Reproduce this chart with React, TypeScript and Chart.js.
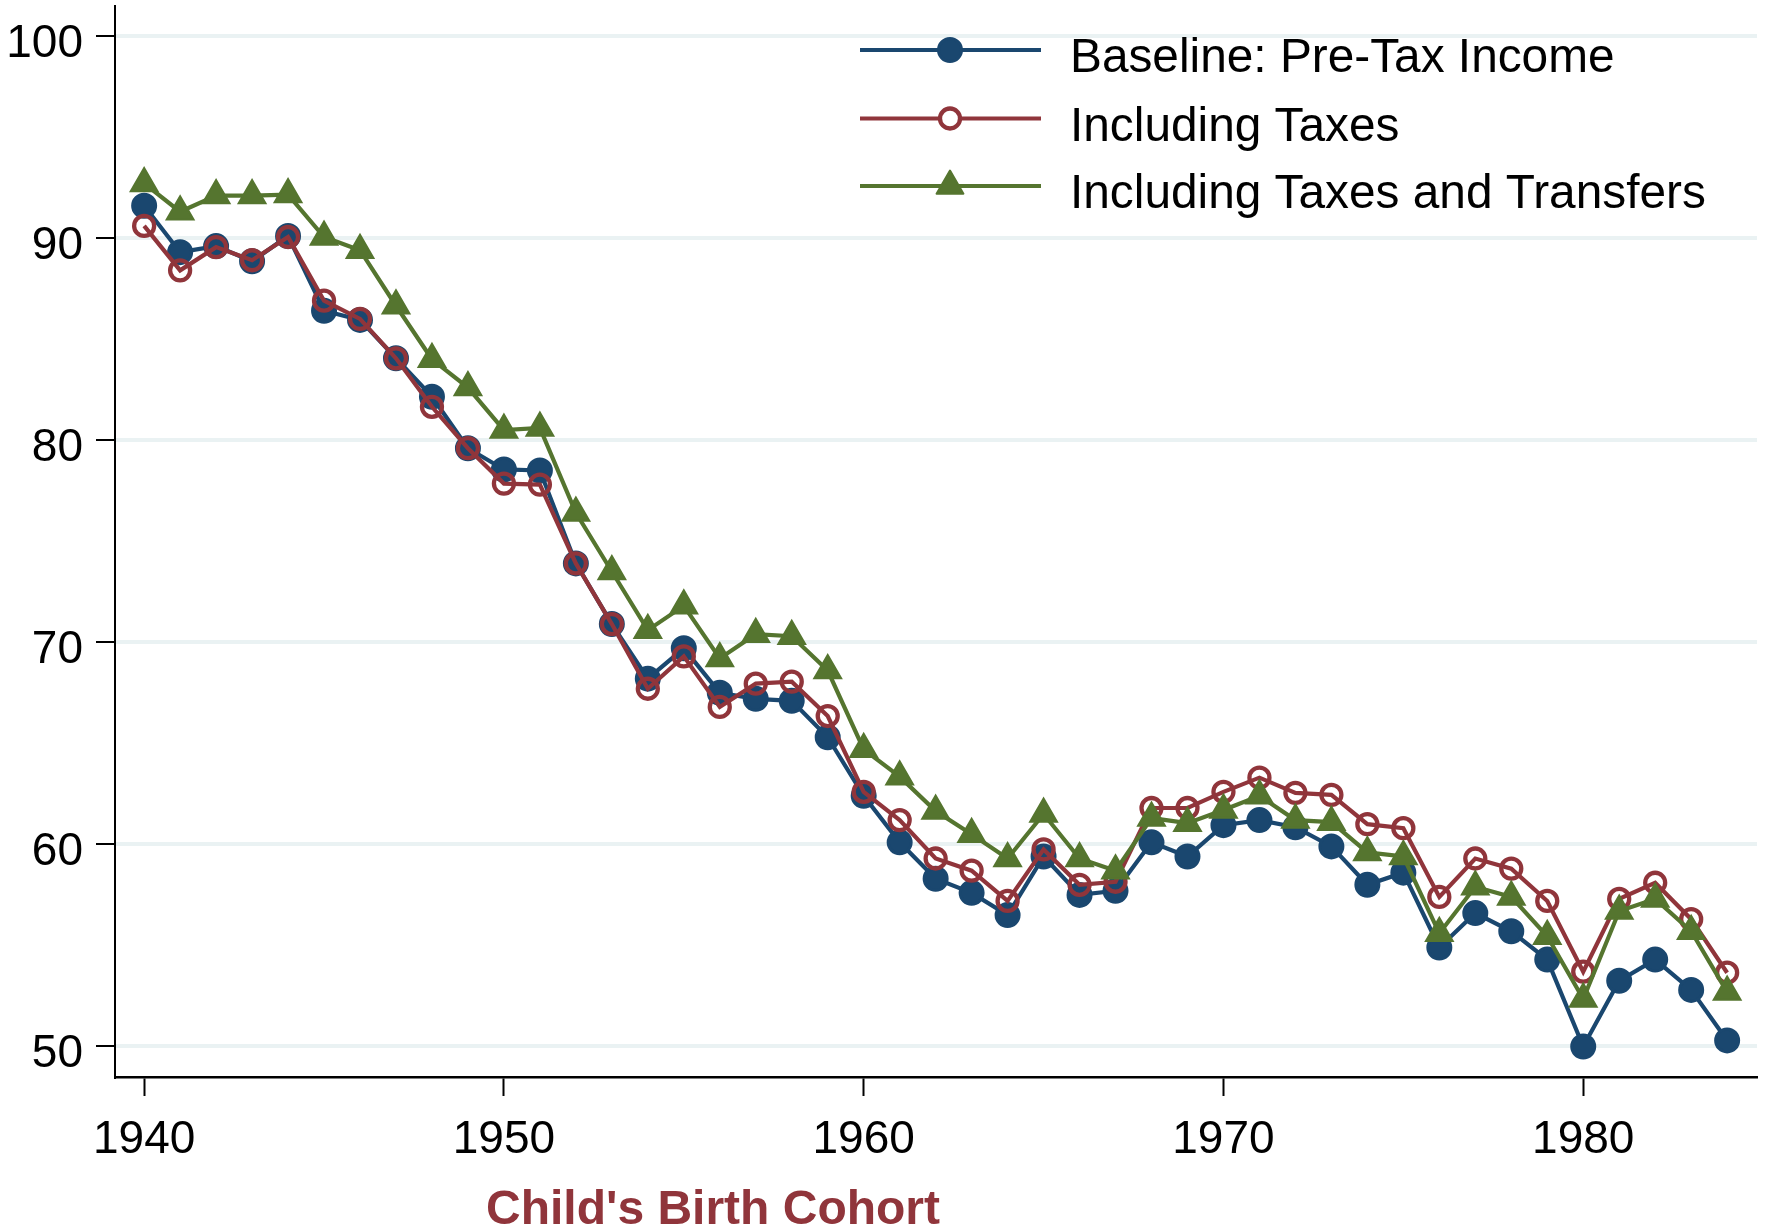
import React, { useEffect, useRef } from "react";
import { Chart, registerables } from "chart.js";

Chart.register(...registerables);

const years = [
  1940, 1941, 1942, 1943, 1944, 1945, 1946, 1947, 1948, 1949,
  1950, 1951, 1952, 1953, 1954, 1955, 1956, 1957, 1958, 1959,
  1960, 1961, 1962, 1963, 1964, 1965, 1966, 1967, 1968, 1969,
  1970, 1971, 1972, 1973, 1974, 1975, 1976, 1977, 1978, 1979,
  1980, 1981, 1982, 1983, 1984,
];

const baseline = [
  91.6, 89.3, 89.6, 88.85, 90.1, 86.4, 85.95, 84.05, 82.15, 79.6,
  78.55, 78.5, 73.9, 70.9, 68.2, 69.7, 67.5, 67.2, 67.1, 65.3,
  62.4, 60.1, 58.3, 57.6, 56.5, 59.4, 57.5, 57.7, 60.1, 59.4,
  60.95, 61.2, 60.85, 59.9, 58.0, 58.6, 54.9, 56.6, 55.7, 54.3,
  50.0, 53.25, 54.3, 52.8, 50.3,
];

const withTaxes = [
  90.6, 88.4, 89.55, 88.9, 90.05, 86.9, 86.0, 84.05, 81.65, 79.6,
  77.85, 77.8, 73.9, 70.9, 67.7, 69.3, 66.8, 67.95, 68.05, 66.35,
  62.6, 61.2, 59.3, 58.7, 57.2, 59.75, 58.0, 58.15, 61.8, 61.8,
  62.6, 63.3, 62.55, 62.45, 61.0, 60.8, 57.4, 59.3, 58.8, 57.2,
  53.7, 57.3, 58.1, 56.3, 53.65,
];

const withTransfers = [
  92.7, 91.3, 92.1, 92.1, 92.15, 90.05, 89.4, 86.65, 84.0, 82.6,
  80.5, 80.6, 76.4, 73.5, 70.6, 71.8, 69.2, 70.4, 70.3, 68.6,
  64.7, 63.35, 61.65, 60.5, 59.3, 61.5, 59.3, 58.7, 61.3, 61.05,
  61.7, 62.4, 61.2, 61.1, 59.6, 59.4, 55.6, 57.9, 57.4, 55.45,
  52.35, 56.7, 57.3, 55.7, 52.7,
];

const seriesLabels = [
  "Baseline: Pre-Tax Income",
  "Including Taxes",
  "Including Taxes and Transfers",
];

const xTicks = [1940, 1950, 1960, 1970, 1980];
const yTicks = [50, 60, 70, 80, 90, 100];
const xTitle = "Child's Birth Cohort";

const NAVY = "#1a476f";
const MAROON = "#90353b";
const GREEN = "#55752f";
const GRID = "#eaf2f3";
const FONT = "'Liberation Sans', Arial, Helvetica, sans-serif";

const W = 1768;
const H = 1232;

const LINE_W = 4.2;

type MarkerKind = "filled" | "hollow" | "triangle";

function drawMarker(ctx: CanvasRenderingContext2D, kind: MarkerKind, color: string, x: number, y: number) {
  ctx.save();
  if (kind === "filled") {
    ctx.beginPath();
    ctx.arc(x, y, 11.5, 0, Math.PI * 2);
    ctx.fillStyle = color;
    ctx.fill();
    ctx.lineWidth = 3;
    ctx.strokeStyle = color;
    ctx.stroke();
  } else if (kind === "hollow") {
    ctx.beginPath();
    ctx.arc(x, y, 10, 0, Math.PI * 2);
    ctx.fillStyle = "#ffffff";
    ctx.fill();
    ctx.lineWidth = 4.3;
    ctx.strokeStyle = color;
    ctx.stroke();
  } else {
    const r = 15.5;
    ctx.beginPath();
    for (let i = 0; i < 3; i++) {
      const a = (i * 2 * Math.PI) / 3;
      const px = x + Math.sin(a) * r;
      const py = y - Math.cos(a) * r;
      if (i === 0) ctx.moveTo(px, py);
      else ctx.lineTo(px, py);
    }
    ctx.closePath();
    ctx.fillStyle = color;
    ctx.fill();
    ctx.lineWidth = 2;
    ctx.lineJoin = "round";
    ctx.strokeStyle = color;
    ctx.stroke();
  }
  ctx.restore();
}

const legendItems: { label: string; color: string; kind: MarkerKind }[] = [
  { label: seriesLabels[0], color: NAVY, kind: "filled" },
  { label: seriesLabels[1], color: MAROON, kind: "hollow" },
  { label: seriesLabels[2], color: GREEN, kind: "triangle" },
];

const overlayPlugin = {
  id: "overlayLegendTitle",
  afterDraw(chart: any) {
    const ctx: CanvasRenderingContext2D = chart.ctx;
    // legend inside the plot area, top right
    const lineX0 = 860;
    const lineX1 = 1041;
    const markX = 950;
    const textX = 1070;
    const rowY = [50, 118.5, 186];
    legendItems.forEach((it, i) => {
      const y = rowY[i];
      ctx.save();
      ctx.strokeStyle = it.color;
      ctx.lineWidth = LINE_W;
      ctx.beginPath();
      ctx.moveTo(lineX0, y);
      ctx.lineTo(lineX1, y);
      ctx.stroke();
      ctx.restore();
      drawMarker(ctx, it.kind, it.color, markX, y);
      ctx.save();
      ctx.fillStyle = "#000000";
      ctx.font = `47.8px ${FONT}`;
      ctx.textAlign = "left";
      ctx.textBaseline = "alphabetic";
      ctx.fillText(it.label, textX, y + 22);
      ctx.restore();
    });
    // x-axis title
    ctx.save();
    ctx.fillStyle = MAROON;
    ctx.font = `bold 48px ${FONT}`;
    ctx.textAlign = "center";
    ctx.textBaseline = "alphabetic";
    ctx.fillText(xTitle, 713, 1224);
    ctx.restore();
  },
};

export default function App() {
  const canvasRef = useRef<HTMLCanvasElement | null>(null);

  useEffect(() => {
    const canvas = canvasRef.current;
    if (!canvas) return;

    const toPoints = (vals: number[]) => years.map((yr, i) => ({ x: yr, y: vals[i] }));

    const chart = new Chart(canvas, {
      type: "line",
      data: {
        datasets: [
          {
            label: seriesLabels[0],
            data: toPoints(baseline),
            borderColor: NAVY,
            backgroundColor: NAVY,
            borderWidth: LINE_W,
            pointStyle: "circle",
            pointRadius: 11.5,
            pointBorderWidth: 3,
            pointBackgroundColor: NAVY,
            pointBorderColor: NAVY,
            tension: 0,
            order: 3,
          },
          {
            label: seriesLabels[1],
            data: toPoints(withTaxes),
            borderColor: MAROON,
            backgroundColor: "rgba(0,0,0,0)",
            borderWidth: LINE_W,
            pointStyle: "circle",
            pointRadius: 10,
            pointBorderWidth: 4.3,
            pointBackgroundColor: "rgba(0,0,0,0)",
            pointBorderColor: MAROON,
            tension: 0,
            order: 2,
          },
          {
            label: seriesLabels[2],
            data: toPoints(withTransfers),
            borderColor: GREEN,
            backgroundColor: GREEN,
            borderWidth: LINE_W,
            pointStyle: "triangle",
            pointRadius: 15.5,
            pointBorderWidth: 2,
            pointBackgroundColor: GREEN,
            pointBorderColor: GREEN,
            tension: 0,
            order: 1,
          },
        ],
      },
      options: {
        responsive: false,
        animation: false,
        devicePixelRatio: 1,
        layout: { autoPadding: false, padding: { top: 6, right: 11, left: 0, bottom: 0 } },
        plugins: {
          legend: { display: false },
          tooltip: { enabled: false },
          title: { display: false },
        },
        scales: {
          x: {
            type: "linear",
            min: 1939.19,
            max: 1984.83,
            afterBuildTicks: (s: any) => {
              s.ticks = xTicks.map((v) => ({ value: v }));
            },
            afterFit: (s: any) => {
              s.height = 155;
              s.paddingLeft = 0;
              s.paddingRight = 0;
            },
            grid: {
              drawOnChartArea: false,
              drawTicks: true,
              tickLength: 19,
              tickColor: "#000000",
              tickWidth: 2,
            },
            border: { display: true, color: "#000000", width: 2.5 },
            ticks: {
              color: "#000000",
              font: { family: FONT, size: 46 },
              padding: 17,
              maxRotation: 0,
              autoSkip: false,
              callback: (v: any) => String(v),
            },
          },
          y: {
            type: "linear",
            min: 48.49,
            max: 101.48,
            afterBuildTicks: (s: any) => {
              s.ticks = yTicks.map((v) => ({ value: v }));
            },
            afterFit: (s: any) => {
              s.width = 115;
              s.paddingTop = 0;
              s.paddingBottom = 0;
            },
            grid: {
              color: GRID,
              lineWidth: 4,
              drawTicks: true,
              tickLength: 19,
              tickColor: "#000000",
              tickWidth: 2,
            },
            border: { display: true, color: "#000000", width: 2 },
            ticks: {
              color: "#000000",
              font: { family: FONT, size: 46 },
              padding: 13,
              labelOffset: 8,
              autoSkip: false,
              callback: (v: any) => String(v),
            },
          },
        },
      },
      plugins: [overlayPlugin],
    } as any);

    return () => {
      chart.destroy();
    };
  }, []);

  return (
    <div style={{ position: "absolute", left: 0, top: 0, width: W, height: H, background: "#ffffff" }}>
      <canvas ref={canvasRef} width={W} height={H} style={{ width: W, height: H, display: "block" }} />
    </div>
  );
}
